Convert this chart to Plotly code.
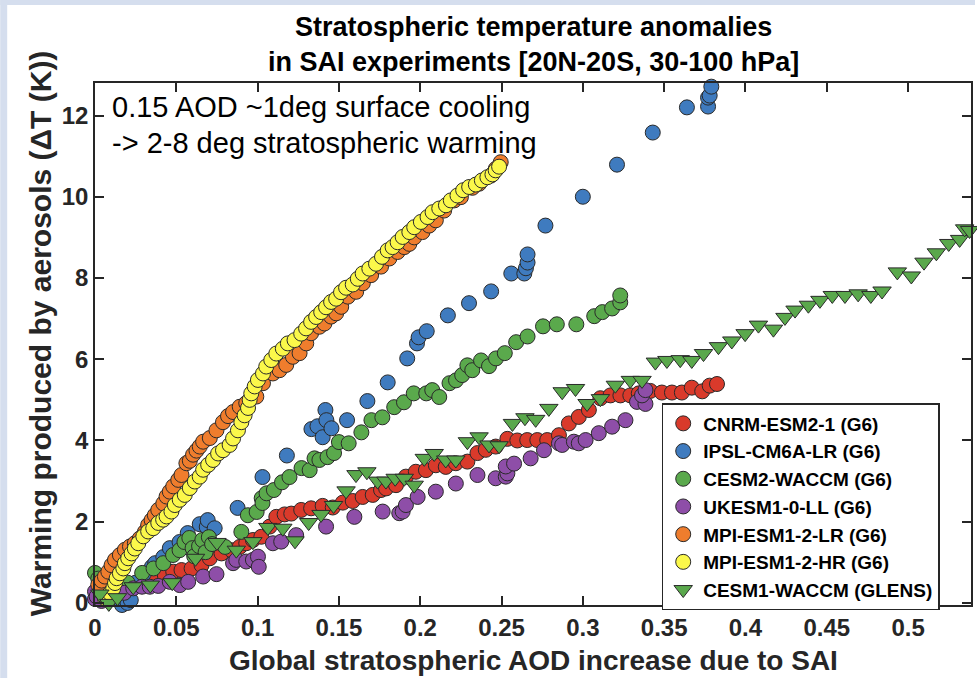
import plotly.graph_objects as go

# ---------------- data ----------------
cnrm_x = [0.010, 0.0143, 0.018, 0.0215, 0.0266, 0.0307, 0.0368, 0.0429, 0.0481, 0.0532, 0.0594, 0.0655,
          0.0706, 0.0778, 0.0839, 0.089, 0.093, 0.0971, 0.1023, 0.1074, 0.1115, 0.1166, 0.1207, 0.1268,
          0.1329, 0.140, 0.1462, 0.1524, 0.1585, 0.1646, 0.1708, 0.1759, 0.179, 0.1851, 0.1912, 0.1973,
          0.2035, 0.2096, 0.2157, 0.2219, 0.229, 0.2352, 0.2403, 0.2464, 0.2536, 0.2597, 0.2658, 0.272,
          0.2781, 0.2853, 0.2914, 0.2975, 0.3037, 0.3108, 0.3170, 0.3231, 0.3292, 0.3344, 0.3415, 0.3486,
          0.3548, 0.3609, 0.367, 0.3734, 0.378, 0.3825]
cnrm_y = [0.12, 0.24, 0.30, 0.40, 0.48, 0.52, 0.61, 0.69, 0.77, 0.81, 0.85, 0.93,
          1.10, 1.22, 1.30, 1.38, 1.47, 1.55, 1.63, 1.88, 2.12, 2.18, 2.20, 2.29,
          2.33, 2.39, 2.35, 2.47, 2.51, 2.61, 2.66, 2.78, 2.82, 2.90, 3.11, 3.23,
          3.27, 3.39, 3.35, 3.44, 3.48, 3.69, 3.77, 3.85, 4.04, 4.00, 4.01, 4.01,
          4.01, 4.13, 4.42, 4.58, 4.75, 5.04, 5.11, 5.11, 5.11, 5.16, 5.22, 5.18,
          5.18, 5.18, 5.30, 5.21, 5.35, 5.39]

ipsl_x = [0.0166, 0.020, 0.022, 0.025, 0.030, 0.035, 0.037, 0.042, 0.046, 0.052, 0.057, 0.0644, 0.0687,
          0.0693, 0.0736, 0.0877, 0.103, 0.118, 0.1331, 0.1368, 0.140, 0.1417, 0.1423, 0.1454, 0.155,
          0.1675, 0.180, 0.192, 0.198, 0.199, 0.204, 0.217, 0.230, 0.2436, 0.256, 0.264, 0.265, 0.266,
          0.266, 0.277, 0.300, 0.321, 0.343, 0.364, 0.377, 0.377, 0.378, 0.379]
ipsl_y = [-0.05, 0.00, 0.07, 0.50, 0.72, 0.89, 0.98, 1.13, 1.35, 1.50, 1.72, 1.94, 1.87,
          2.04, 1.84, 2.34, 3.10, 3.63, 4.28, 4.35, 4.08, 4.75, 4.50, 4.30, 4.50,
          4.97, 5.43, 6.02, 6.39, 6.54, 6.69, 7.08, 7.38, 7.67, 8.11, 8.11, 8.24, 8.38,
          8.58, 9.29, 10.00, 10.79, 11.58, 12.20, 12.22, 12.44, 12.49, 12.71]

cesm2_x = [0.000, 0.002, 0.012, 0.020, 0.029, 0.036, 0.042, 0.048, 0.052, 0.055, 0.058, 0.060, 0.061,
           0.064, 0.066, 0.068, 0.070, 0.072, 0.080, 0.090, 0.094, 0.0994, 0.1025, 0.103, 0.1055, 0.110,
           0.115, 0.1196, 0.127, 0.132, 0.135, 0.138, 0.143, 0.147, 0.150, 0.156, 0.1638, 0.170, 0.1767,
           0.184, 0.190, 0.196, 0.2037, 0.2074, 0.2117, 0.218, 0.222, 0.2258, 0.229, 0.232, 0.2374,
           0.2423, 0.2466, 0.252, 0.259, 0.266, 0.2755, 0.284, 0.296, 0.307, 0.312, 0.318, 0.323, 0.323]
cesm2_y = [0.74, 0.60, 0.25, 0.50, 0.74, 0.85, 0.98, 1.18, 1.30, 1.50, 1.60, 1.35, 1.15,
           1.40, 1.55, 1.25, 1.62, 1.45, 1.38, 1.75, 2.16, 2.24, 2.58, 2.46, 2.70, 2.78,
           2.97, 3.10, 3.32, 3.27, 3.56, 3.52, 3.59, 3.69, 3.96, 3.93, 4.20, 4.50, 4.57,
           4.82, 4.94, 5.16, 5.16, 5.24, 5.07, 5.41, 5.48, 5.61, 5.85, 5.73, 5.97,
           5.83, 6.02, 6.15, 6.42, 6.56, 6.81, 6.86, 6.86, 7.06, 7.16, 7.25, 7.40, 7.57]

ukesm_x = [0.000, 0.000, 0.001, 0.004, 0.0072, 0.0133, 0.018, 0.0235, 0.0289, 0.0337, 0.0389, 0.046,
           0.0521, 0.0573, 0.0665, 0.0747, 0.0849, 0.0869, 0.093, 0.0971, 0.1002, 0.1007, 0.1094, 0.1145,
           0.1237, 0.1421, 0.1595, 0.1769, 0.1871, 0.1892, 0.1912, 0.1984, 0.2096, 0.2219, 0.2352, 0.2464,
           0.2526, 0.2536, 0.2526, 0.2577, 0.2679, 0.2761, 0.2853, 0.2873, 0.2945, 0.2975, 0.3017, 0.3098,
           0.318, 0.3262, 0.3333, 0.3385, 0.3364, 0.3385]
ukesm_y = [0.10, 0.28, 0.16, 0.05, 0.24, 0.32, 0.25, 0.36, 0.40, 0.40, 0.42, 0.52,
           0.44, 0.52, 0.65, 0.71, 0.98, 1.06, 1.02, 1.06, 1.14, 0.89, 1.47, 1.51,
           1.67, 1.88, 2.12, 2.25, 2.21, 2.25, 2.41, 2.61, 2.74, 2.94, 3.15, 3.07,
           3.11, 3.19, 3.36, 3.43, 3.56, 3.76, 3.93, 3.89, 3.97, 3.93, 4.01, 4.18,
           4.34, 4.50, 4.95, 4.90, 5.11, 5.24]

mpilr_x = [0.002, 0.0041, 0.0061, 0.0082, 0.0102, 0.0123, 0.0153, 0.0184, 0.0215, 0.0245, 0.0276, 0.0307,
           0.0327, 0.0348, 0.0368, 0.0389, 0.042, 0.044, 0.046, 0.0481, 0.0512, 0.0532, 0.0562, 0.0583,
           0.0603, 0.0624, 0.0644, 0.0665, 0.0706, 0.0747, 0.0787, 0.0818, 0.0849, 0.089, 0.093, 0.0992,
           0.1033, 0.1094, 0.1135, 0.1176, 0.1217, 0.1258, 0.1299, 0.1329, 0.1380, 0.1411, 0.1452, 0.1483,
           0.1514, 0.1555, 0.1606, 0.1647, 0.1698, 0.1759, 0.181, 0.1861, 0.1902, 0.1933, 0.1963, 0.2014,
           0.2055, 0.2096, 0.2147, 0.2209, 0.225, 0.2321, 0.2362, 0.2434, 0.2465, 0.2495]
mpilr_y = [0.45, 0.55, 0.65, 0.77, 0.93, 1.06, 1.18, 1.31, 1.39, 1.47, 1.59, 1.75,
           1.92, 2.04, 2.16, 2.29, 2.45, 2.62, 2.74, 2.87, 3.03, 3.15, 3.44, 3.50,
           3.65, 3.75, 3.85, 3.97, 4.06, 4.25, 4.45, 4.60, 4.70, 4.83, 4.92, 5.08,
           5.41, 5.65, 5.73, 5.86, 6.06, 6.15, 6.39, 6.64, 6.80, 6.88, 7.05, 7.13,
           7.29, 7.54, 7.66, 7.87, 8.07, 8.28, 8.48, 8.64, 8.76, 8.84, 9.00, 9.13,
           9.29, 9.42, 9.66, 9.91, 9.99, 10.22, 10.32, 10.52, 10.69, 10.85]

mpihr_x = [0.006, 0.0092, 0.0112, 0.0123, 0.0133, 0.0153, 0.0174, 0.0184, 0.0204, 0.0225, 0.0245, 0.0266,
           0.0297, 0.0327, 0.0358, 0.0389, 0.0419, 0.044, 0.047, 0.0491, 0.0521, 0.0552, 0.0583, 0.0614,
           0.0644, 0.0665, 0.0696, 0.0726, 0.0757, 0.0787, 0.0828, 0.0849, 0.0879, 0.090, 0.092, 0.0941,
           0.0951, 0.0961, 0.0982, 0.1002, 0.1033, 0.1053, 0.1084, 0.1115, 0.1155, 0.1186, 0.1227, 0.1268,
           0.1298, 0.1329, 0.1360, 0.1391, 0.1421, 0.1452, 0.1483, 0.1513, 0.1544, 0.1585, 0.1616, 0.1646,
           0.1687, 0.1728, 0.1765, 0.1800, 0.1830, 0.1861, 0.1892, 0.1933, 0.1963, 0.2004, 0.2045, 0.2076,
           0.2117, 0.2158, 0.2188, 0.2229, 0.2264, 0.2301, 0.2342, 0.2379, 0.2413, 0.2444, 0.2464, 0.2485]
mpihr_y = [0.12, 0.24, 0.36, 0.49, 0.61, 0.73, 0.85, 0.98, 1.10, 1.22, 1.34, 1.47,
           1.64, 1.76, 1.84, 1.97, 2.05, 2.13, 2.25, 2.41, 2.54, 2.66, 2.83, 2.99,
           3.11, 3.28, 3.40, 3.52, 3.68, 3.76, 3.89, 4.05, 4.25, 4.45, 4.62, 4.80,
           5.00, 5.16, 5.33, 5.49, 5.65, 5.82, 5.98, 6.14, 6.26, 6.39, 6.47, 6.63,
           6.76, 6.92, 7.04, 7.16, 7.28, 7.41, 7.49, 7.65, 7.76, 7.84, 7.98, 8.11,
           8.23, 8.35, 8.52, 8.68, 8.76, 8.88, 9.01, 9.13, 9.25, 9.38, 9.50, 9.62,
           9.71, 9.79, 9.91, 10.03, 10.16, 10.24, 10.30, 10.40, 10.48, 10.55, 10.65, 10.74]

glens_x = [0.003, 0.0085, 0.0138, 0.0235, 0.034, 0.0475, 0.0618, 0.075, 0.0869, 0.0971, 0.1063, 0.1155,
           0.123, 0.1314, 0.139, 0.1467, 0.1544, 0.1605, 0.1672, 0.1738, 0.1789, 0.1846, 0.1902, 0.1963,
           0.2025, 0.2086, 0.2157, 0.2219, 0.229, 0.2362, 0.2423, 0.2485, 0.2567, 0.2644, 0.271, 0.2791,
           0.2873, 0.2955, 0.3026, 0.3108, 0.3200, 0.3292, 0.3364, 0.3446, 0.3517, 0.3599, 0.367, 0.3742,
           0.3834, 0.3916, 0.3998, 0.408, 0.4172, 0.4243, 0.4305, 0.4387, 0.4458, 0.4534, 0.4612, 0.4693,
           0.4771, 0.4840, 0.4934, 0.502, 0.5098, 0.5174, 0.5250, 0.5317, 0.5348, 0.5378]
glens_y = [0.22, -0.01, 0.13, 0.40, 0.44, 0.50, 1.10, 1.49, 1.30, 1.51, 1.86, 1.84,
           1.53, 1.98, 2.18, 2.40, 2.76, 3.16, 3.23, 3.00, 3.00, 3.07, 3.07, 2.90,
           3.56, 3.68, 3.52, 3.52, 3.97, 4.09, 3.89, 3.87, 4.42, 4.56, 4.52, 4.79,
           5.20, 5.28, 4.91, 5.03, 5.36, 5.48, 5.48, 5.93, 5.97, 5.99, 5.97, 6.14,
           6.31, 6.45, 6.63, 6.84, 6.74, 7.03, 7.21, 7.33, 7.45, 7.57, 7.57, 7.61,
           7.57, 7.68, 8.15, 8.05, 8.39, 8.62, 8.85, 8.95, 9.21, 9.17]

series_names = ["CNRM-ESM2-1 (G6)", "IPSL-CM6A-LR (G6)", "CESM2-WACCM (G6)", "UKESM1-0-LL (G6)",
                "MPI-ESM1-2-LR (G6)", "MPI-ESM1-2-HR (G6)", "CESM1-WACCM (GLENS)"]
series_colors = ["#d93a2b", "#3f7bbf", "#5aa94c", "#8e4ea8", "#ef7d2d", "#fbf84a", "#5aa84c"]
series_symbols = ["circle", "circle", "circle", "circle", "circle", "circle", "triangle-down"]

x_tickvals = [0, 0.05, 0.1, 0.15, 0.2, 0.25, 0.3, 0.35, 0.4, 0.45, 0.5]
x_ticktext = ["0", "0.05", "0.1", "0.15", "0.2", "0.25", "0.3", "0.35", "0.4", "0.45", "0.5"]
y_tickvals = [0, 2, 4, 6, 8, 10, 12]
y_ticktext = ["0", "2", "4", "6", "8", "10", "12"]

title_lines = ["Stratospheric temperature anomalies", "in SAI experiments [20N-20S, 30-100 hPa]"]
note_lines = ["0.15 AOD ~1deg surface cooling", "-> 2-8 deg stratospheric warming"]
x_title = "Global stratospheric AOD increase due to SAI"
y_title = "Warming produced by aerosols (ΔT (K))"

# ---------------- figure ----------------
W, H = 977, 678
L, R, T, B = 95, 4, 83, 73
PW, PH = W - L - R, H - T - B

def px(xp):
    return (xp - L) / PW

def py(yp):
    return (H - B - yp) / PH

FONT = "Liberation Sans, Arial, Helvetica, sans-serif"
AX = "#262626"

all_x = [cnrm_x, ipsl_x, cesm2_x, ukesm_x, mpilr_x, mpihr_x, glens_x]
all_y = [cnrm_y, ipsl_y, cesm2_y, ukesm_y, mpilr_y, mpihr_y, glens_y]

fig = go.Figure()
for xs, ys, name, col, sym in zip(all_x, all_y, series_names, series_colors, series_symbols):
    fig.add_trace(go.Scatter(
        x=xs, y=ys, mode="markers", name=name, cliponaxis=False,
        marker=dict(symbol=sym, size=16 if sym == "triangle-down" else 15, color=col,
                    line=dict(color="#2a2a2a", width=1)),
    ))

axis_common = dict(showgrid=False, zeroline=False, showline=True, linecolor=AX, linewidth=1.5,
                   mirror="ticks", ticks="inside", ticklen=9, tickwidth=1.5, tickcolor=AX,
                   tickfont=dict(family=FONT, size=24, color=AX, weight="bold"))

fig.update_layout(
    width=W, height=H,
    margin=dict(l=L, r=R, t=T, b=B),
    paper_bgcolor="white", plot_bgcolor="white",
    font=dict(family=FONT, color="black"),
    showlegend=True,
    legend=dict(x=px(663), y=py(403), xanchor="left", yanchor="top",
                bgcolor="white", bordercolor=AX, borderwidth=1.5,
                font=dict(family=FONT, size=19, color="black", weight="bold"),
                tracegroupgap=0, itemwidth=30),
    xaxis=dict(range=[0, 0.5387], tickvals=x_tickvals, ticktext=x_ticktext, **axis_common),
    yaxis=dict(range=[-0.05, 12.8], tickvals=y_tickvals, ticktext=y_ticktext, **axis_common),
)

annots = []
annots.append(dict(text="<b>%s</b>" % title_lines[0], x=0.5, y=py(27), xref="paper", yref="paper",
                   showarrow=False, font=dict(family=FONT, size=27, color="black"),
                   xanchor="center", yanchor="middle"))
annots.append(dict(text="<b>%s</b>" % title_lines[1], x=0.5, y=py(62), xref="paper", yref="paper",
                   showarrow=False, font=dict(family=FONT, size=27, color="black"),
                   xanchor="center", yanchor="middle"))
annots.append(dict(text=note_lines[0], x=px(110), y=py(107), xref="paper", yref="paper",
                   showarrow=False, font=dict(family=FONT, size=29, color="black"),
                   xanchor="left", yanchor="middle"))
annots.append(dict(text=note_lines[1], x=px(110), y=py(143), xref="paper", yref="paper",
                   showarrow=False, font=dict(family=FONT, size=29, color="black"),
                   xanchor="left", yanchor="middle"))
annots.append(dict(text="<b>%s</b>" % x_title, x=px(535), y=py(660), xref="paper", yref="paper",
                   showarrow=False, font=dict(family=FONT, size=28, color=AX),
                   xanchor="center", yanchor="middle"))
annots.append(dict(text="<b>%s</b>" % y_title, x=px(40), y=py(333), xref="paper", yref="paper",
                   showarrow=False, textangle=-90, font=dict(family=FONT, size=30, color=AX),
                   xanchor="center", yanchor="middle"))
fig.update_layout(annotations=annots)

# light slide-background strips along the left and top edges
STRIP = "#d5deee"
fig.add_shape(type="rect", xref="paper", yref="paper", x0=px(0), x1=px(7), y0=py(H), y1=py(0),
              fillcolor=STRIP, line=dict(width=0), layer="below")
fig.add_shape(type="rect", xref="paper", yref="paper", x0=px(0), x1=px(W), y0=py(5), y1=py(0),
              fillcolor=STRIP, line=dict(width=0), layer="below")

fig.write_html("out.html", config={"displayModeBar": False},
               post_script="document.body.style.margin='0';")
